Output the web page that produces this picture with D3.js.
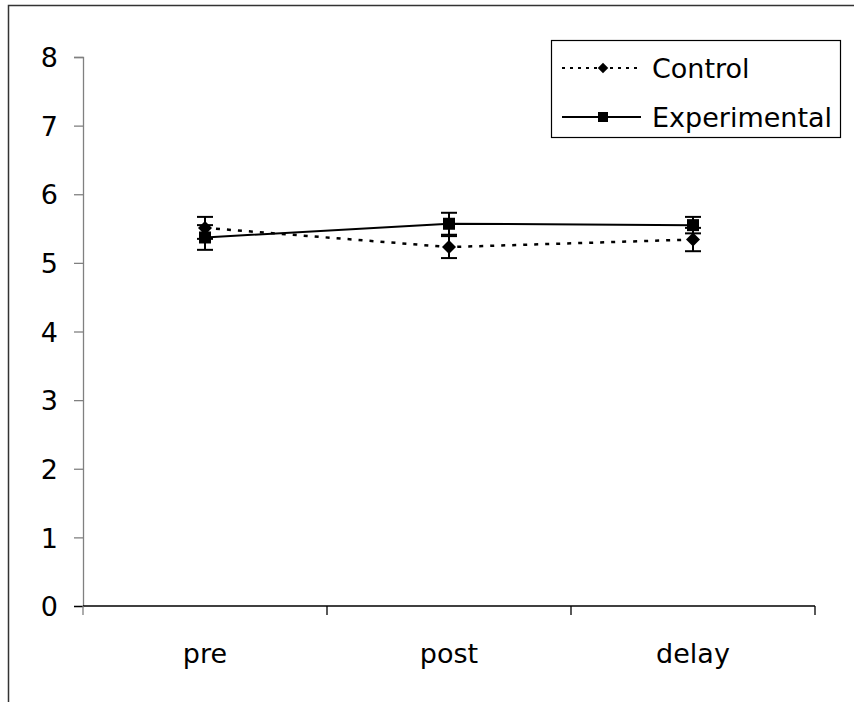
<!DOCTYPE html>
<html lang="en">
  <head>
    <meta charset="utf-8">
    <title>Control vs Experimental</title>
    <script src="https://cdn.jsdelivr.net/npm/d3@7"></script>
    <style>
      body { margin: 0; background: #fff; }
      text { font-family: "DejaVu Sans", Arial, sans-serif; fill: #000; }
    </style>
  </head>
  <body>
    <script>

      // values
      var phases = ["pre", "post", "delay"];
      var controlMean = [5.51, 5.23, 5.34];
      var controlErr = [0.16, 0.16, 0.17];
      var expMean = [5.37, 5.57, 5.55];
      var expErr = [0.18, 0.16, 0.12];
      var yTicks = [0, 1, 2, 3, 4, 5, 6, 7, 8];

      var W = 854, H = 702;
      var plotL = 83, plotR = 815, plotT = 57, plotB = 606;

      var svg = d3.select("body").append("svg")
                  .attr("width", W)
                  .attr("height", H);

      // outer frame (only top and left edges show)
      svg.append("path")
         .attr("d", "M8.5,702 L8.5,5.5 L854,5.5")
         .attr("fill", "none")
         .attr("stroke", "#333")
         .attr("stroke-width", 1.5);

      var x = d3.scaleBand().domain(phases).range([plotL, plotR]);
      var y = d3.scaleLinear().domain([0, 8]).range([plotB, plotT]);
      var cx = function(d, i) { return x(phases[i]) + x.bandwidth() / 2; };

      // y axis
      var yAxis = svg.append("g")
         .attr("transform", "translate(" + plotL + ",0)")
         .call(d3.axisLeft(y).tickValues(yTicks).tickSize(9).tickPadding(16).tickFormat(d3.format("d")));
      yAxis.select(".domain").attr("stroke", "#808080").attr("stroke-width", 1.3);
      yAxis.selectAll(".tick line")
         .attr("stroke", function(d) { return d === 0 ? "#000" : "#808080"; })
         .attr("stroke-width", 1.3);
      yAxis.selectAll("text")
         .attr("font-family", null)
         .attr("font-size", null)
         .style("font-size", "27px")
         .attr("dy", "0.36em");

      // x axis: ticks sit between the categories
      var xAxis = svg.append("g")
         .attr("transform", "translate(0," + plotB + ")");
      xAxis.append("line")
         .attr("x1", plotL).attr("x2", plotR)
         .attr("stroke", "#000").attr("stroke-width", 1.3);
      var sep = phases.map(function(p) { return x(p); }).concat([plotR]);
      xAxis.selectAll(".sep")
         .data(sep)
         .enter().append("line")
         .attr("x1", function(d) { return d; })
         .attr("x2", function(d) { return d; })
         .attr("y1", 0).attr("y2", 9)
         .attr("stroke", function(d, i) { return i === 0 ? "#808080" : "#000"; })
         .attr("stroke-width", 1.3);
      xAxis.selectAll(".lab")
         .data(phases)
         .enter().append("text")
         .attr("x", function(d) { return x(d) + x.bandwidth() / 2; })
         .attr("y", 57)
         .attr("text-anchor", "middle")
         .style("font-size", "27px")
         .text(function(d) { return d; });

      var line = d3.line()
         .x(function(d, i) { return cx(d, i); })
         .y(function(d) { return y(d); });

      function drawErr(mean, err) {
        var g = svg.append("g").attr("stroke", "#000").attr("stroke-width", 2);
        g.selectAll(".v").data(mean).enter().append("line")
         .attr("x1", cx).attr("x2", cx)
         .attr("y1", function(d, i) { return y(d + err[i]); })
         .attr("y2", function(d, i) { return y(d - err[i]); });
        [1, -1].forEach(function(s) {
          g.selectAll(".c" + s).data(mean).enter().append("line")
           .attr("x1", function(d, i) { return cx(d, i) - 8; })
           .attr("x2", function(d, i) { return cx(d, i) + 8; })
           .attr("y1", function(d, i) { return y(d + s * err[i]); })
           .attr("y2", function(d, i) { return y(d + s * err[i]); });
        });
      }

      drawErr(controlMean, controlErr);
      drawErr(expMean, expErr);

      // control: dashed with diamonds
      svg.append("path")
         .datum(controlMean)
         .attr("d", line)
         .attr("fill", "none")
         .attr("stroke", "#000")
         .attr("stroke-width", 2.5)
         .attr("stroke-dasharray", "4,7");

      // experimental: solid with squares
      svg.append("path")
         .datum(expMean)
         .attr("d", line)
         .attr("fill", "none")
         .attr("stroke", "#000")
         .attr("stroke-width", 2);

      var diamond = "M0,-7 L7,0 L0,7 L-7,0 Z";
      svg.selectAll(".dia")
         .data(controlMean)
         .enter().append("path")
         .attr("d", diamond)
         .attr("transform", function(d, i) { return "translate(" + cx(d, i) + "," + y(d) + ")"; })
         .attr("fill", "#000");

      svg.selectAll(".sq")
         .data(expMean)
         .enter().append("rect")
         .attr("x", function(d, i) { return cx(d, i) - 6; })
         .attr("y", function(d) { return y(d) - 6; })
         .attr("width", 12).attr("height", 12)
         .attr("fill", "#000");

      // legend
      var leg = svg.append("g");
      leg.append("rect")
         .attr("x", 551.5).attr("y", 40.5)
         .attr("width", 289).attr("height", 97)
         .attr("fill", "#fff")
         .attr("stroke", "#000").attr("stroke-width", 1.2);

      var legRows = [
        { name: "Control", dash: "3,5", shape: diamond, y: 68 },
        { name: "Experimental", dash: null, shape: "M-5,-5 L5,-5 L5,5 L-5,5 Z", y: 117 }
      ];
      var row = leg.selectAll(".row")
         .data(legRows)
         .enter().append("g")
         .attr("transform", function(d) { return "translate(0," + d.y + ")"; });
      row.append("line")
         .attr("x1", 562).attr("x2", 641)
         .attr("stroke", "#000").attr("stroke-width", 2)
         .attr("stroke-dasharray", function(d) { return d.dash; });
      row.append("path")
         .attr("d", function(d) { return d.shape; })
         .attr("transform", function(d, i) { return "translate(603,0)" + (i === 0 ? " scale(0.75)" : ""); })
         .attr("fill", "#000");
      row.append("text")
         .attr("x", 652)
         .attr("dy", "0.36em")
         .style("font-size", "27px")
         .text(function(d) { return d.name; });

    </script>
  </body>
</html>
